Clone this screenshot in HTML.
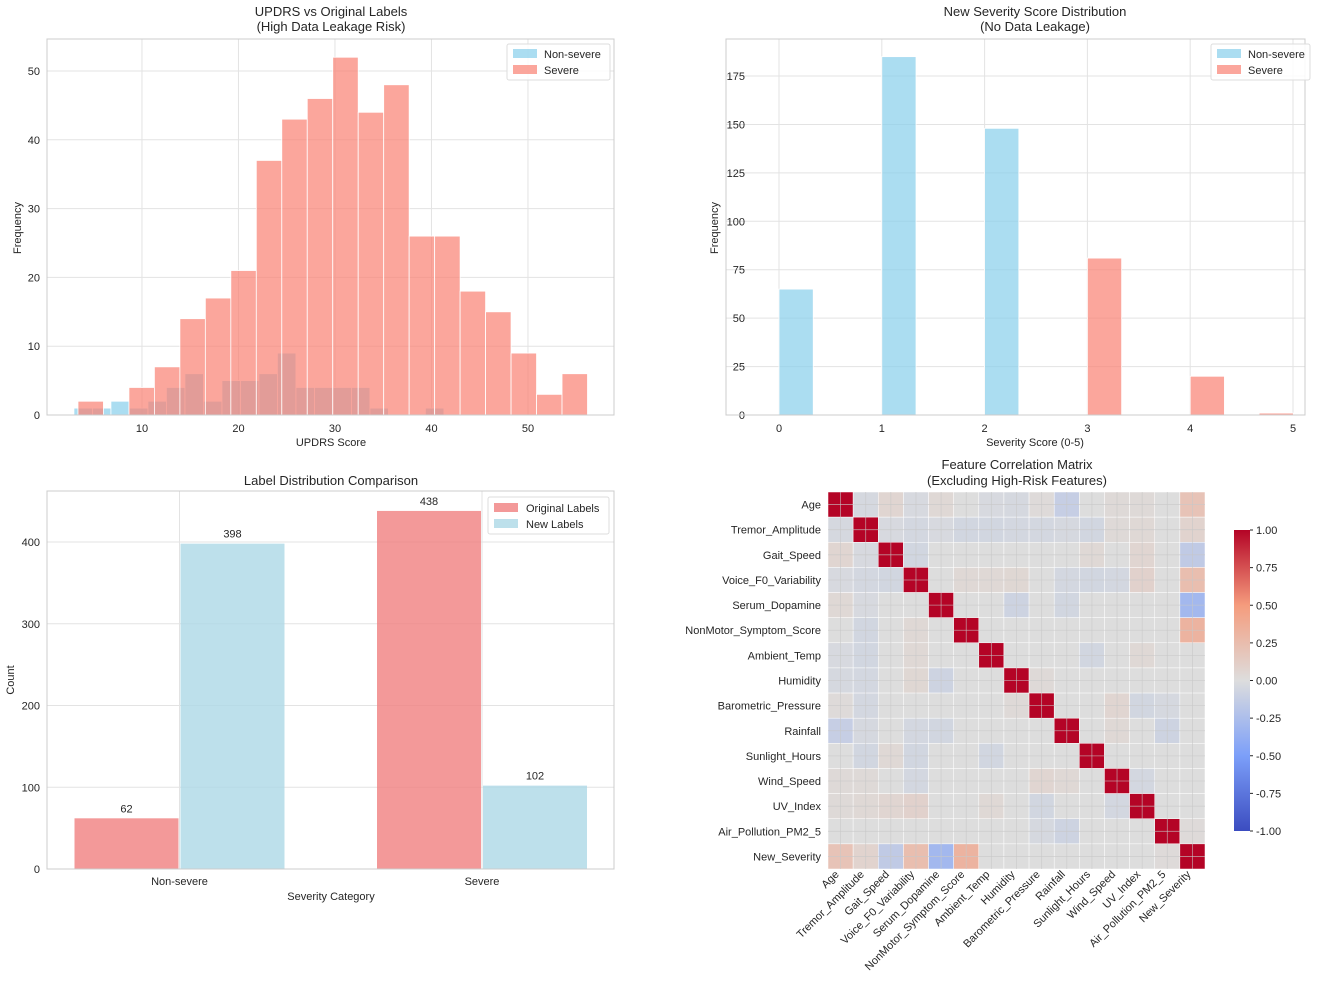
<!DOCTYPE html>
<html><head><meta charset="utf-8"><style>
body{margin:0;background:#fff;}
svg{display:block;font-family:"Liberation Sans",sans-serif;}
</style></head><body>
<svg id="fig" width="1325" height="989" viewBox="0 0 1325 989" xmlns="http://www.w3.org/2000/svg"></svg>
<script>
// ---- Chart 1 data: UPDRS histogram ----
const sevCounts = [2,0,4,7,14,17,21,37,43,46,52,44,48,26,26,18,15,9,3,6];
const sevStart = 3.37, sevWidth = 2.64;
const nonCounts = [1,1,2,1,2,4,6,2,5,5,6,9,4,4,4,4,1,0,0,1];
const nonStart = 2.95, nonWidth = 1.917;
const h1XTicks = [10,20,30,40,50];
const h1YTicks = [0,10,20,30,40,50];
// ---- Chart 2 data: new severity ----
const scoreBins = [0,1,2,3,4,4.67];
const scoreCounts = [65,185,148,81,20,1];
const scoreIsSevere = [0,0,0,1,1,1];
const h2XTicks = [0,1,2,3,4,5];
const h2YTicks = [0,25,50,75,100,125,150,175];
// ---- Chart 3 data: label comparison ----
const categories = ["Non-severe","Severe"];
const origLabels = [62,438];
const newLabels = [398,102];
const h3YTicks = [0,100,200,300,400];
// ---- Chart 4 data: correlation ----
const features = ["Age","Tremor_Amplitude","Gait_Speed","Voice_F0_Variability","Serum_Dopamine","NonMotor_Symptom_Score","Ambient_Temp","Humidity","Barometric_Pressure","Rainfall","Sunlight_Hours","Wind_Speed","UV_Index","Air_Pollution_PM2_5","New_Severity"];
const corrPairs = [
 [0,1,-0.04],[0,2,0.06],[0,3,-0.03],[0,4,0.04],[0,6,-0.03],[0,7,-0.04],[0,8,0.02],[0,9,-0.12],[0,11,0.03],[0,12,0.03],[0,14,0.2],
 [1,2,-0.03],[1,3,-0.05],[1,4,-0.03],[1,5,-0.06],[1,6,-0.06],[1,7,-0.05],[1,8,-0.05],[1,9,-0.04],[1,10,-0.06],[1,11,0.03],[1,12,0.04],[1,14,0.08],
 [2,3,-0.06],[2,10,0.04],[2,12,0.06],[2,14,-0.15],
 [3,5,0.04],[3,6,0.04],[3,7,0.05],[3,9,-0.05],[3,10,-0.06],[3,11,-0.05],[3,12,0.09],[3,14,0.24],
 [4,7,-0.08],[4,9,-0.06],[4,14,-0.3],
 [5,14,0.32],
 [6,10,-0.06],[6,12,0.04],
 [7,8,0.03],
 [8,11,0.06],[8,12,-0.06],[8,13,-0.04],
 [9,11,0.04],[9,13,-0.08],
 [11,12,-0.05],
 [13,14,0.02]
];
const cbTicks = [1,0.75,0.5,0.25,0,-0.25,-0.5,-0.75,-1];

const svg = document.getElementById('fig');
const NS = 'http://www.w3.org/2000/svg';
function mk(tag, attrs, parent, text){
  const e = document.createElementNS(NS, tag);
  for (const k in attrs) e.setAttribute(k, attrs[k]);
  if (text !== undefined) e.textContent = text;
  (parent||svg).appendChild(e);
  return e;
}
const GRID = '#e3e3e3', AX = '#cccccc', TXT = '#262626';

function axesFrame(x0,y0,x1,y1,name){
  const r = mk('rect',{x:x0,y:y0,width:x1-x0,height:y1-y0,fill:'none',stroke:AX,'stroke-width':1});
  
  
}
function label(x,y,t,opts,name){
  const e = mk('text',Object.assign({x:x,y:y,'font-size':11,fill:TXT},opts||{}),svg,t);
  
  
  return e;
}

// ================= Chart 1 =================
(function(){
  const L=47,R=614,T=39,B=415;
  const xs = v => 47 + (v-0.16)*9.65;
  const ys = v => 415 - v*6.88;
  h1XTicks.forEach(t=>{ mk('line',{x1:xs(t),x2:xs(t),y1:T,y2:B,stroke:GRID}); label(xs(t),432,t,{'text-anchor':'middle'},'x-tick-label'); });
  h1YTicks.forEach(t=>{ mk('line',{x1:L,x2:R,y1:ys(t),y2:ys(t),stroke:GRID}); label(40,ys(t)+4,t,{'text-anchor':'end'},'y-tick-label'); });
  nonCounts.forEach((c,i)=>{ if(!c) return;
    const x0=xs(nonStart+i*nonWidth), x1=xs(nonStart+(i+1)*nonWidth);
    const r=mk('rect',{x:x0,y:ys(c),width:x1-x0,height:ys(0)-ys(c),fill:'#87ceeb','fill-opacity':0.7,stroke:'#fff','stroke-width':0.8});
    
    
  });
  sevCounts.forEach((c,i)=>{ if(!c) return;
    const x0=xs(sevStart+i*sevWidth), x1=xs(sevStart+(i+1)*sevWidth);
    const r=mk('rect',{x:x0,y:ys(c),width:x1-x0,height:ys(0)-ys(c),fill:'#fa8072','fill-opacity':0.7,stroke:'#fff','stroke-width':0.8});
    
    
  });
  axesFrame(L,T,R,B,'updrs-axes');
  label(331,16,'UPDRS vs Original Labels',{'text-anchor':'middle','font-size':13},'chart-title');
  label(331,31,'(High Data Leakage Risk)',{'text-anchor':'middle','font-size':13},'chart-subtitle');
  label(331,446,'UPDRS Score',{'text-anchor':'middle'},'x-axis-title');
  label(0,0,'Frequency',{'text-anchor':'middle',transform:'translate(21,228) rotate(-90)'},'y-axis-title');
  const lg=mk('rect',{x:507,y:44,width:103,height:36,fill:'#fff','fill-opacity':0.85,stroke:'#ddd',rx:2});
   
  mk('rect',{x:513,y:49,width:24,height:9,fill:'#87ceeb','fill-opacity':0.7});
  label(544,58,'Non-severe',{},'legend-entry');
  mk('rect',{x:513,y:65,width:24,height:9,fill:'#fa8072','fill-opacity':0.7});
  label(544,74,'Severe',{},'legend-entry');
})();

// ================= Chart 2 =================
(function(){
  const L=726,R=1305,T=39,B=415;
  const xs = v => 779 + v*102.8;
  const ys = v => 415 - v*1.937;
  h2XTicks.forEach(t=>{ mk('line',{x1:xs(t),x2:xs(t),y1:T,y2:B,stroke:GRID}); label(xs(t),432,t,{'text-anchor':'middle'},'x-tick-label'); });
  h2YTicks.forEach(t=>{ mk('line',{x1:L,x2:R,y1:ys(t),y2:ys(t),stroke:GRID}); label(745,ys(t)+4,t,{'text-anchor':'end'},'y-tick-label'); });
  scoreCounts.forEach((c,i)=>{
    const x0=xs(scoreBins[i]), x1=xs(scoreBins[i]+0.333);
    const r=mk('rect',{x:x0,y:ys(c),width:x1-x0,height:ys(0)-ys(c),fill:scoreIsSevere[i]?'#fa8072':'#87ceeb','fill-opacity':0.7,stroke:'#fff','stroke-width':0.8});
    
    
  });
  axesFrame(L,T,R,B,'severity-axes');
  label(1035,16,'New Severity Score Distribution',{'text-anchor':'middle','font-size':13},'chart-title');
  label(1035,31,'(No Data Leakage)',{'text-anchor':'middle','font-size':13},'chart-subtitle');
  label(1035,446,'Severity Score (0-5)',{'text-anchor':'middle'},'x-axis-title');
  label(0,0,'Frequency',{'text-anchor':'middle',transform:'translate(718,228) rotate(-90)'},'y-axis-title');
  const lg=mk('rect',{x:1211,y:44,width:99,height:36,fill:'#fff','fill-opacity':0.85,stroke:'#ddd',rx:2});
   
  mk('rect',{x:1217,y:49,width:24,height:9,fill:'#87ceeb','fill-opacity':0.7});
  label(1248,58,'Non-severe',{},'legend-entry');
  mk('rect',{x:1217,y:65,width:24,height:9,fill:'#fa8072','fill-opacity':0.7});
  label(1248,74,'Severe',{},'legend-entry');
})();

// ================= Chart 3 =================
(function(){
  const L=47,R=614,T=491,B=869;
  const ys = v => 869 - v*0.8175;
  const cx = i => 179.5 + i*302.5;
  categories.forEach((c,i)=>{ mk('line',{x1:cx(i),x2:cx(i),y1:T,y2:B,stroke:GRID}); label(cx(i),885,c,{'text-anchor':'middle'},'x-tick-label'); });
  h3YTicks.forEach(t=>{ mk('line',{x1:L,x2:R,y1:ys(t),y2:ys(t),stroke:GRID}); label(40,ys(t)+4,t,{'text-anchor':'end'},'y-tick-label'); });
  categories.forEach((c,i)=>{
    const r1=mk('rect',{x:cx(i)-105,y:ys(origLabels[i]),width:104,height:ys(0)-ys(origLabels[i]),fill:'#f08080','fill-opacity':0.8});
     
    label(cx(i)-53,ys(origLabels[i])-6,origLabels[i],{'text-anchor':'middle'},'bar-value');
    const r2=mk('rect',{x:cx(i)+1,y:ys(newLabels[i]),width:104,height:ys(0)-ys(newLabels[i]),fill:'#add8e6','fill-opacity':0.8});
     
    label(cx(i)+53,ys(newLabels[i])-6,newLabels[i],{'text-anchor':'middle'},'bar-value');
  });
  axesFrame(L,T,R,B,'label-axes');
  label(331,485,'Label Distribution Comparison',{'text-anchor':'middle','font-size':13},'chart-title');
  label(331,900,'Severity Category',{'text-anchor':'middle'},'x-axis-title');
  label(0,0,'Count',{'text-anchor':'middle',transform:'translate(14,680) rotate(-90)'},'y-axis-title');
  const lg=mk('rect',{x:488,y:497,width:121,height:37,fill:'#fff','fill-opacity':0.85,stroke:'#ddd',rx:2});
   
  mk('rect',{x:494,y:503,width:24,height:9,fill:'#f08080','fill-opacity':0.8});
  label(526,512,'Original Labels',{},'legend-entry');
  mk('rect',{x:494,y:519,width:24,height:9,fill:'#add8e6','fill-opacity':0.8});
  label(526,528,'New Labels',{},'legend-entry');
})();

// ================= Chart 4 =================
(function(){
  const n = features.length;
  const X0=828, Y0=492, S=377/15;
  const M = [];
  for(let i=0;i<n;i++){ M.push([]); for(let j=0;j<n;j++) M[i].push(i===j?1:0); }
  corrPairs.forEach(p=>{ M[p[0]][p[1]]=p[2]; M[p[1]][p[0]]=p[2]; });
  const stops=[[-1,[59,76,192]],[-0.5,[124,159,249]],[0,[221,221,221]],[0.5,[245,156,125]],[1,[180,4,38]]];
  function cmap(v){
    for(let k=0;k<stops.length-1;k++){
      const a=stops[k],b=stops[k+1];
      if(v<=b[0]){ const t=(v-a[0])/(b[0]-a[0]); const c=a[1].map((x,q)=>Math.round(x+(b[1][q]-x)*t)); return 'rgb('+c.join(',')+')'; }
    }
    return 'rgb(180,4,38)';
  }
  const cx = i => X0 + (i+0.5)*S, cy = i => Y0 + (i+0.5)*S;
  for(let i=0;i<n;i++) for(let j=0;j<n;j++){
    const r=mk('rect',{x:X0+j*S,y:Y0+i*S,width:S,height:S,fill:cmap(M[i][j]),stroke:'#fff','stroke-width':0.5});
    
    
  }
  for(let i=0;i<n;i++){
    mk('line',{x1:cx(i),x2:cx(i),y1:Y0,y2:Y0+n*S,stroke:'#c8c8c8','stroke-width':0.8,'stroke-opacity':0.7});
    mk('line',{x1:X0,x2:X0+n*S,y1:cy(i),y2:cy(i),stroke:'#c8c8c8','stroke-width':0.8,'stroke-opacity':0.7});
    label(821,cy(i)+4,features[i],{'text-anchor':'end'},'row-label');
    label(0,0,features[i],{'text-anchor':'end',transform:'translate('+(cx(i)-1)+','+(Y0+n*S+6)+') rotate(-45)'},'column-label');
  }
  label(1017,469,'Feature Correlation Matrix',{'text-anchor':'middle','font-size':13},'chart-title');
  label(1017,485,'(Excluding High-Risk Features)',{'text-anchor':'middle','font-size':13},'chart-subtitle');
  // colorbar
  const defs=mk('defs',{});
  const g=mk('linearGradient',{id:'cb',x1:0,y1:1,x2:0,y2:0},defs);
  stops.forEach(s=>mk('stop',{offset:((s[0]+1)/2*100)+'%','stop-color':cmap(s[0])},g));
  const cb=mk('rect',{x:1234,y:530,width:16,height:301,fill:'url(#cb)'});
   
  cbTicks.forEach(t=>{ const y=530+(1-t)/2*301; mk('line',{x1:1250,x2:1253,y1:y,y2:y,stroke:TXT}); label(1256,y+4,t.toFixed(2),{},'colorbar-tick-label'); });
})();
</script>
</body></html>
